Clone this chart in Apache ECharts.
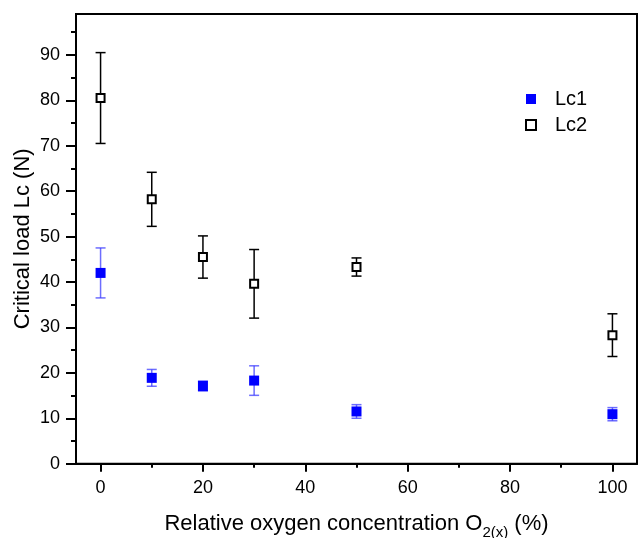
<!DOCTYPE html>
<html>
<head>
<meta charset="utf-8">
<script src="https://cdn.jsdelivr.net/npm/echarts@6/dist/echarts.min.js"></script>
<style>html,body{margin:0;padding:0;background:#fff}#c{width:638px;height:538px}</style>
</head>
<body>
<div id="c"></div>
<script>
// ---- data ----
const oxygen = [0, 10, 20, 30, 50, 100];
const lc1 = [42.0, 18.9, 17.1, 18.3, 11.5, 10.9];
const lc1Err = [5.5, 1.85, 1.1, 3.25, 1.5, 1.45];
const lc2 = [80.5, 58.2, 45.5, 39.6, 43.3, 28.3];
const lc2Err = [10.0, 5.95, 4.65, 7.55, 2.0, 4.7];
const xTicks = [0, 20, 40, 60, 80, 100];
const xMinorTicks = [10, 30, 50, 70, 90];
const yTicks = [0, 10, 20, 30, 40, 50, 60, 70, 80, 90];
const yMinorTicks = [5, 15, 25, 35, 45, 55, 65, 75, 85, 95];

const FONT = 'Liberation Sans, Arial, sans-serif';
const pts = (ys) => oxygen.map((x, i) => [x, ys[i]]);
const errs = (ys, es) => oxygen.map((x, i) => [x, ys[i] - es[i], ys[i] + es[i]]);

function errRender(color) {
  return function (params, api) {
    const x = api.value(0), lo = api.value(1), hi = api.value(2);
    const a = api.coord([x, hi]), b = api.coord([x, lo]);
    const hw = 5;
    const st = { stroke: color, lineWidth: 1.5 };
    return { type: 'group', children: [
      { type: 'line', shape: { x1: a[0], y1: a[1], x2: b[0], y2: b[1] }, style: st },
      { type: 'line', shape: { x1: a[0] - hw, y1: a[1], x2: a[0] + hw, y2: a[1] }, style: st },
      { type: 'line', shape: { x1: b[0] - hw, y1: b[1], x2: b[0] + hw, y2: b[1] }, style: st }
    ]};
  };
}

const chart = echarts.init(document.getElementById('c'), null, { renderer: 'canvas' });
chart.setOption({
  backgroundColor: '#fff',
  animation: false,
  textStyle: { fontFamily: FONT },
  grid: { left: 76, right: 1, top: 14, height: 449.7, show: true, borderColor: '#000', borderWidth: 2,
    containLabel: false, outerBoundsMode: 'none' },
  legend: {
    orient: 'vertical', left: 520, top: 84, itemWidth: 10, itemHeight: 10, itemGap: 6,
    textStyle: { fontSize: 20, fontFamily: FONT, color: '#000', lineHeight: 20, padding: [0, 0, 0, 14] },
    data: [
      { name: 'Lc1', icon: 'rect', itemStyle: { color: '#0000ff', borderWidth: 0, opacity: 1 } },
      { name: 'Lc2', icon: 'rect', itemStyle: { color: '#fff', borderColor: '#000', borderWidth: 2, opacity: 1 } }
    ]
  },
  xAxis: [{
    type: 'value', min: -4.8, max: 104.8, position: 'bottom',
    name: 'Relative oxygen concentration O{sub|2(x)} (%)', nameLocation: 'middle', nameGap: 43,
    nameTextStyle: { fontSize: 22, color: '#000', fontFamily: FONT, lineHeight: 34,
      rich: { sub: { fontSize: 15, lineHeight: 15, verticalAlign: 'bottom', fontFamily: FONT, color: '#000' } } },
    axisLine: { show: true, onZero: false, lineStyle: { color: '#000', width: 2 } },
    axisTick: { show: true, customValues: xTicks, length: 8, lineStyle: { color: '#000', width: 2 } },
    axisLabel: { customValues: xTicks, fontSize: 18, color: '#000', margin: 15, fontFamily: FONT },
    splitLine: { show: false }
  }, {
    type: 'value', min: -4.8, max: 104.8, position: 'bottom',
    axisLine: { show: false, onZero: false },
    axisTick: { show: true, customValues: xMinorTicks, length: 4, lineStyle: { color: '#000', width: 2 } },
    axisLabel: { show: false }, splitLine: { show: false }
  }],
  yAxis: [{
    type: 'value', min: 0, max: 99, position: 'left',
    name: 'Critical load Lc (N)', nameLocation: 'middle', nameGap: 42, nameMoveOverlap: false,
    nameTextStyle: { fontSize: 22, color: '#000', fontFamily: FONT },
    axisLine: { show: true, onZero: false, lineStyle: { color: '#000', width: 2 } },
    axisTick: { show: true, customValues: yTicks, length: 10, lineStyle: { color: '#000', width: 2 } },
    axisLabel: { customValues: yTicks, fontSize: 18, color: '#000', margin: 16, fontFamily: FONT },
    splitLine: { show: false }
  }, {
    type: 'value', min: 0, max: 99, position: 'left',
    axisLine: { show: false, onZero: false },
    axisTick: { show: true, customValues: yMinorTicks, length: 5, lineStyle: { color: '#000', width: 2 } },
    axisLabel: { show: false }, splitLine: { show: false }
  }],
  series: [
    { name: 'Lc1 err', type: 'custom', xAxisIndex: 0, yAxisIndex: 0, z: 1,
      renderItem: errRender('rgba(60,60,255,0.75)'), encode: { x: 0, y: [1, 2] }, data: errs(lc1, lc1Err) },
    { name: 'Lc2 err', type: 'custom', xAxisIndex: 0, yAxisIndex: 0, z: 1,
      renderItem: errRender('#000'), encode: { x: 0, y: [1, 2] }, data: errs(lc2, lc2Err) },
    { name: 'Lc1', type: 'scatter', xAxisIndex: 0, yAxisIndex: 0, z: 3, symbol: 'rect', symbolSize: 10,
      itemStyle: { color: '#0000ff', opacity: 1 }, data: pts(lc1) },
    { name: 'Lc2', type: 'scatter', xAxisIndex: 0, yAxisIndex: 0, z: 3, symbol: 'rect', symbolSize: 8,
      itemStyle: { color: '#fff', borderColor: '#000', borderWidth: 2, opacity: 1 }, data: pts(lc2) }
  ]
});
</script>
</body>
</html>
